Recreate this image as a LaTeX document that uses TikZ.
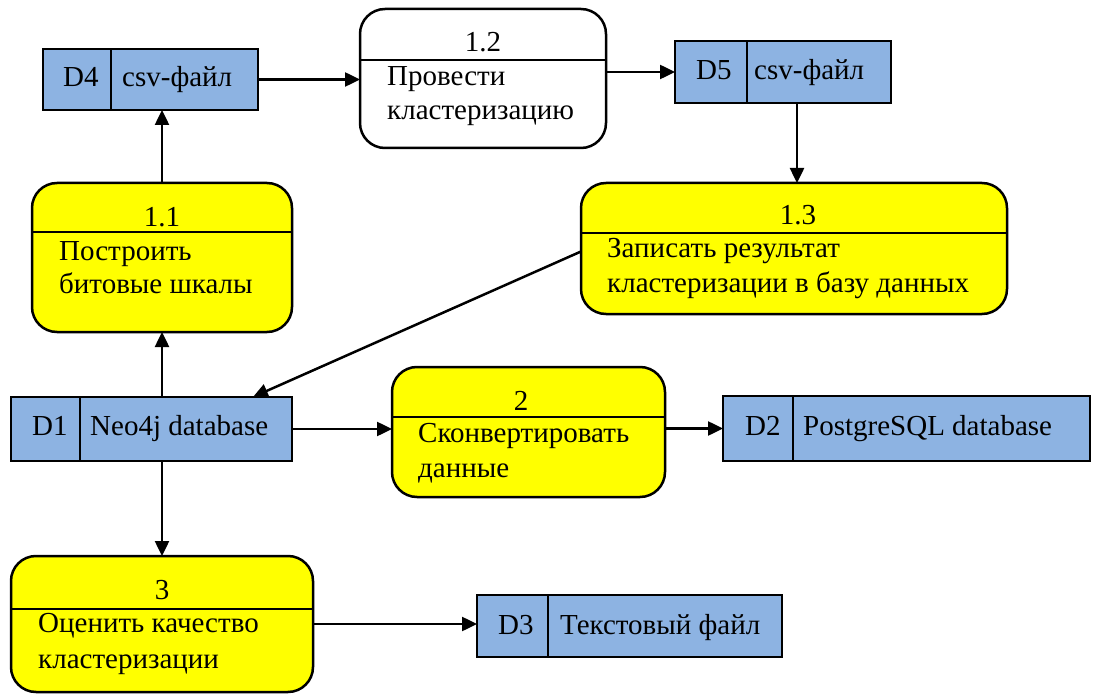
\documentclass[tikz,border=0pt]{standalone}
\usepackage{fontspec}
\setmainfont{Liberation Serif}
\usetikzlibrary{arrows.meta,calc}
\definecolor{storeblue}{RGB}{141,179,226}
\definecolor{procyellow}{RGB}{255,255,0}
\tikzset{
  store/.style={draw=black, fill=storeblue, line width=2.5pt, inner sep=0pt, outer sep=0pt},
  proc/.style={draw=black, fill=procyellow, line width=2.5pt, rounded corners=25pt, inner sep=0pt, outer sep=0pt},
  procw/.style={proc, fill=white},
  divline/.style={line width=2.5pt},
  flow/.style={line width=2.5pt, -{Triangle[length=15pt,width=14pt]}},
  lbl/.style={inner sep=0pt, anchor=base west, font=\fontsize{29}{34}\selectfont},
  num/.style={inner sep=0pt, anchor=base, font=\fontsize{29}{34}\selectfont},
}
\begin{document}
\begin{tikzpicture}[x=1pt,y=-1pt]
\useasboundingbox (0,0) rectangle (1093,695);
% ---------- data stores ----------
\node[store, minimum width=215pt, minimum height=61pt] (d4) at (150.5,79.5) {};
\draw[divline] ($(d4.north west)+(68,0)$) -- ($(d4.south west)+(68,0)$);
\node[lbl] (d4id) at (63,87) {D4};
\node[lbl] (d4t) at (122,87) {csv-файл};

\node[store, minimum width=216pt, minimum height=62pt] (d5) at (783,72) {};
\draw[divline] ($(d5.north west)+(72,0)$) -- ($(d5.south west)+(72,0)$);
\node[lbl] (d5id) at (696,80) {D5};
\node[lbl] (d5t) at (754,80) {csv-файл};

\node[store, minimum width=281pt, minimum height=64pt] (d1) at (151.5,429) {};
\draw[divline] ($(d1.north west)+(69,0)$) -- ($(d1.south west)+(69,0)$);
\node[lbl] (d1id) at (32,435) {D1};
\node[lbl] (d1t) at (90,435) {Neo4j database};

\node[store, minimum width=367pt, minimum height=65pt] (d2) at (906.5,428.5) {};
\draw[divline] ($(d2.north west)+(70,0)$) -- ($(d2.south west)+(70,0)$);
\node[lbl] (d2id) at (745,435) {D2};
\node[lbl] (d2t) at (803,435) {PostgreSQL database};

\node[store, minimum width=305pt, minimum height=62pt] (d3) at (629.5,626) {};
\draw[divline] ($(d3.north west)+(71,0)$) -- ($(d3.south west)+(71,0)$);
\node[lbl] (d3id) at (498,634) {D3};
\node[lbl] (d3t) at (560,634) {Текстовый файл};

% ---------- processes ----------
\node[procw, minimum width=246pt, minimum height=139pt] (p12) at (483,78.5) {};
\draw[divline] ($(p12.north west)+(0,51)$) -- ($(p12.north east)+(0,51)$);
\node[num] (p12n) at (483,52) {1.2};
\node[lbl] (p12a) at (387,86) {Провести};
\node[lbl] (p12b) at (387,120) {кластеризацию};

\node[proc, minimum width=260pt, minimum height=149pt] (p11) at (162,257.5) {};
\draw[divline] ($(p11.north west)+(0,49)$) -- ($(p11.north east)+(0,49)$);
\node[num] (p11n) at (162,227) {1.1};
\node[lbl] (p11a) at (59,261) {Построить};
\node[lbl] (p11b) at (59,294) {битовые шкалы};

\node[proc, minimum width=426pt, minimum height=131pt] (p13) at (794,248.5) {};
\draw[divline] ($(p13.north west)+(0,50)$) -- ($(p13.north east)+(0,50)$);
\node[num] (p13n) at (798,225) {1.3};
\node[lbl] (p13a) at (607,258) {Записать результат};
\node[lbl] (p13b) at (607,293) {кластеризации в базу данных};

\node[proc, minimum width=273pt, minimum height=130pt] (p2) at (528.5,432) {};
\draw[divline] ($(p2.north west)+(0,50)$) -- ($(p2.north east)+(0,50)$);
\node[num] (p2n) at (521,410) {2};
\node[lbl] (p2a) at (418,442) {Сконвертировать};
\node[lbl] (p2b) at (418,477) {данные};

\node[proc, minimum width=302pt, minimum height=136pt] (p3) at (162,624) {};
\draw[divline] ($(p3.north west)+(0,53)$) -- ($(p3.north east)+(0,53)$);
\node[num] (p3n) at (162,599) {3};
\node[lbl] (p3a) at (38,632) {Оценить качество};
\node[lbl] (p3b) at (38,668) {кластеризации};

% ---------- flows ----------
\draw[flow] (d4.east) -- (d4.east -| p12.west);
\draw[flow] (p12.east |- d5.west) -- (d5.west);
\draw[flow] (p11.north) -- (p11.north |- d4.south);
\draw[flow] (p11.south |- d1.north) -- (p11.south);
\draw[flow] ($(d5.south)+(14,0)$) -- ($(p13.north)+(3,0)$);
\draw[flow] ($(p13.west)+(0,3)$) -- ($(d1.north east)+(-39,0)$);
\draw[flow] (d1.east) -- (d1.east -| p2.west);
\draw[flow] (p2.east |- d2.west) -- (d2.west);
\draw[flow] (p3.north |- d1.south) -- (p3.north);
\draw[flow] (p3.east) -- (p3.east -| d3.west);
\end{tikzpicture}
\end{document}
